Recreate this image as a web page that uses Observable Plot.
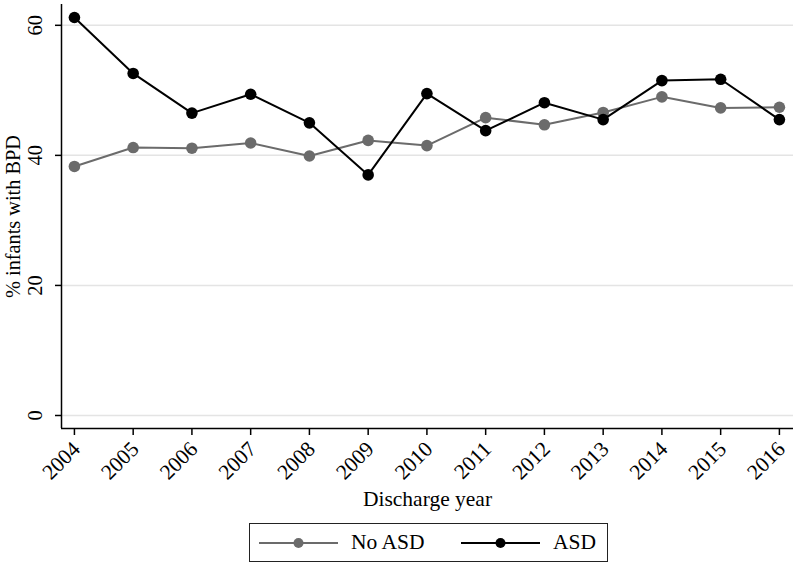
<!DOCTYPE html>
<html>
<head>
<meta charset="utf-8">
<script src="https://cdn.jsdelivr.net/npm/d3@7"></script>
<script src="https://cdn.jsdelivr.net/npm/@observablehq/plot@0.6"></script>
<style>
  body { margin: 0; background: white; font-family: "Liberation Serif", "Times New Roman", serif; }
  #wrap { position: relative; width: 800px; height: 567px; }
  #legend { position: absolute; left: 249px; top: 523px; width: 357px; height: 37px; border: 1px solid #222; box-sizing: content-box; font-size: 21.5px; color: #000; }
  .sym { position: absolute; top: 11px; }
  .lab { position: absolute; top: 5px; line-height: 26px; }
</style>
</head>
<body>
<div id="wrap">
  <div id="chart"></div>
  <div id="legend"></div>
</div>
<script>
const years = [2004, 2005, 2006, 2007, 2008, 2009, 2010, 2011, 2012, 2013, 2014, 2015, 2016];
const noAsd = [38.3, 41.2, 41.1, 41.9, 39.9, 42.3, 41.5, 45.8, 44.7, 46.6, 49.0, 47.3, 47.4];
const asd   = [61.2, 52.6, 46.5, 49.4, 45.0, 37.0, 49.5, 43.8, 48.1, 45.5, 51.5, 51.7, 45.5];
const yTicks = [0, 20, 40, 60];
const seriesNames = ["No ASD", "ASD"];
const seriesColors = ["#6b6b6b", "#000000"];
const xDomain = [2003.78, 2016.24];
const yDomain = [-2, 63.2];

const rows = [];
years.forEach((yr, i) => {
  rows.push({year: yr, value: noAsd[i], series: seriesNames[0]});
  rows.push({year: yr, value: asd[i], series: seriesNames[1]});
});
const noRows = rows.filter(d => d.series === seriesNames[0]);
const asdRows = rows.filter(d => d.series === seriesNames[1]);

const chart = Plot.plot({
  width: 800,
  height: 515,
  marginLeft: 61,
  marginRight: 7,
  marginTop: 4,
  marginBottom: 87,
  style: { fontFamily: "Liberation Serif, Times New Roman, serif", fontSize: "20px", color: "#000", background: "white" },
  x: { domain: xDomain },
  y: { domain: yDomain },
  marks: [
    Plot.gridY(yTicks, { stroke: "#e4e4e4", strokeOpacity: 1, strokeWidth: 1.5 }),
    Plot.line(noRows, { x: "year", y: "value", stroke: seriesColors[0], strokeWidth: 2 }),
    Plot.dot(noRows, { x: "year", y: "value", r: 5.8, fill: seriesColors[0], stroke: "none" }),
    Plot.line(asdRows, { x: "year", y: "value", stroke: seriesColors[1], strokeWidth: 2 }),
    Plot.dot(asdRows, { x: "year", y: "value", r: 5.8, fill: seriesColors[1], stroke: "none" }),
    Plot.ruleX([xDomain[0]], { stroke: "#000", strokeWidth: 1.5 }),
    Plot.ruleY([yDomain[0]], { stroke: "#000", strokeWidth: 1.5 }),
    Plot.axisY(yTicks, { tickSize: 6, tickFormat: () => "", label: null, strokeWidth: 1.5 }),
    Plot.text(yTicks, { y: d => d, text: d => String(d), frameAnchor: "left", dx: -26, rotate: -90, textAnchor: "middle", lineAnchor: "middle", fontSize: 20.5 }),
    Plot.axisX(years, { tickSize: 7, tickFormat: () => "", label: null, strokeWidth: 1.5 }),
    Plot.text(years, { x: d => d, text: d => String(d), frameAnchor: "bottom", dx: 2, dy: 17, rotate: -45, textAnchor: "end", lineAnchor: "middle", fontSize: 21.5 }),
    Plot.text(["Discharge year"], { text: d => d, frameAnchor: "bottom", dy: 71, lineAnchor: "middle", fontSize: 21.5 }),
    Plot.text(["% infants with BPD"], { text: d => d, frameAnchor: "left", dx: -48, rotate: -90, textAnchor: "middle", lineAnchor: "middle", fontSize: 20.3 })
  ]
});
document.getElementById("chart").appendChild(chart);

const legend = document.getElementById("legend");
const symLeft = [9, 211];
const labLeft = [101, 303];
seriesNames.forEach((name, i) => {
  const sym = document.createElement("div");
  sym.className = "sym";
  sym.style.left = symLeft[i] + "px";
  sym.innerHTML = `<svg width="79" height="16" style="display:block"><line x1="0" x2="79" y1="8" y2="8" stroke="${seriesColors[i]}" stroke-width="2"/><circle cx="39.5" cy="8" r="5" fill="${seriesColors[i]}"/></svg>`;
  legend.appendChild(sym);
  const lab = document.createElement("div");
  lab.className = "lab";
  lab.style.left = labLeft[i] + "px";
  lab.textContent = name;
  legend.appendChild(lab);
});
</script>
</body>
</html>
